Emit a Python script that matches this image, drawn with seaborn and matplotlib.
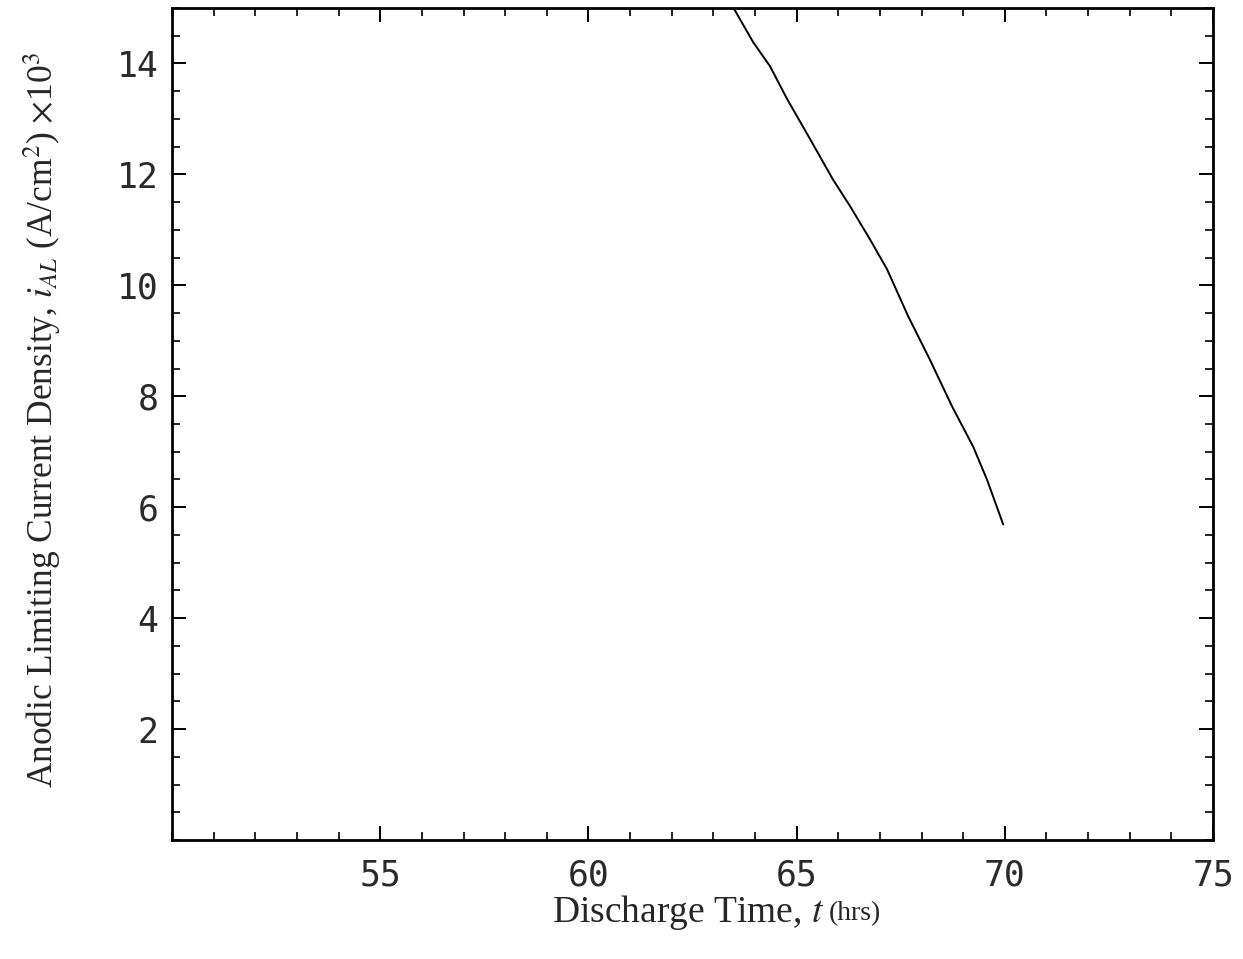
import numpy as np
import pandas as pd
import matplotlib
matplotlib.use("Agg")
import matplotlib.pyplot as plt
import seaborn as sns
from matplotlib.ticker import MultipleLocator, FixedLocator

# Data
time_hrs = [63.50, 63.95, 64.36, 64.77, 65.32, 65.87, 66.28, 66.76, 67.17,
            67.68, 68.20, 68.73, 69.24, 69.57, 69.96]
current_density = [14.98, 14.39, 13.95, 13.36, 12.64, 11.91, 11.43, 10.83, 10.29,
                   9.44, 8.66, 7.82, 7.09, 6.50, 5.69]
x_ticks = [55, 60, 65, 70, 75]
y_ticks = [2, 4, 6, 8, 10, 12, 14]

sns.set_theme(style="ticks")
plt.rcParams['font.family'] = ['DejaVu Sans']
plt.rcParams['mathtext.fontset'] = 'stix'

df = pd.DataFrame({"t": time_hrs, "i": current_density})

fig = plt.figure(figsize=(12.43, 9.59), dpi=100)
ax = fig.add_axes([0.1384, 0.1241, 0.9759 - 0.1384, 0.9917 - 0.1241])

sns.lineplot(data=df, x="t", y="i", ax=ax, color="black", linewidth=1.4, sort=False)

ax.set_xlim(50, 75)
ax.set_ylim(0, 15)
ax.xaxis.set_major_locator(FixedLocator(x_ticks))
ax.yaxis.set_major_locator(FixedLocator(y_ticks))
ax.xaxis.set_minor_locator(MultipleLocator(1))
ax.yaxis.set_minor_locator(MultipleLocator(0.5))
ax.set_xticklabels([str(v) for v in x_ticks], family='DejaVu Sans Mono', fontsize=25)
ax.set_yticklabels([str(v) for v in y_ticks], family='DejaVu Sans Mono', fontsize=25)

for s in ax.spines.values():
    s.set_linewidth(2.0)
    s.set_color('black')
    s.set_visible(True)

ax.tick_params(which='major', direction='in', length=10, width=1.4, color='black',
               top=True, right=True, pad=13, labelcolor='#2a2a2a')
ax.tick_params(which='minor', direction='in', length=6, width=1.2, color='black',
               top=True, right=True)
ax.tick_params(axis='y', which='major', pad=10)

ax.set_xlabel("")
ax.set_ylabel("")
fig.text(0.663, 0.049, r"Discharge Time, $t$", family='Liberation Serif', fontsize=27,
         ha='right', va='center')
fig.text(0.667, 0.047, "(hrs)", family='Liberation Serif', fontsize=20,
         ha='left', va='center')
fig.text(0.034, 0.562, r"Anodic Limiting Current Density, $i_{AL}$ (A/cm$^2$) $\times$10$^3$",
         family='Liberation Serif', fontsize=25.5, rotation=90, ha='center', va='center')

ax.set_facecolor('white')
fig.patch.set_facecolor('white')
fig.savefig("out.png", dpi=100)
